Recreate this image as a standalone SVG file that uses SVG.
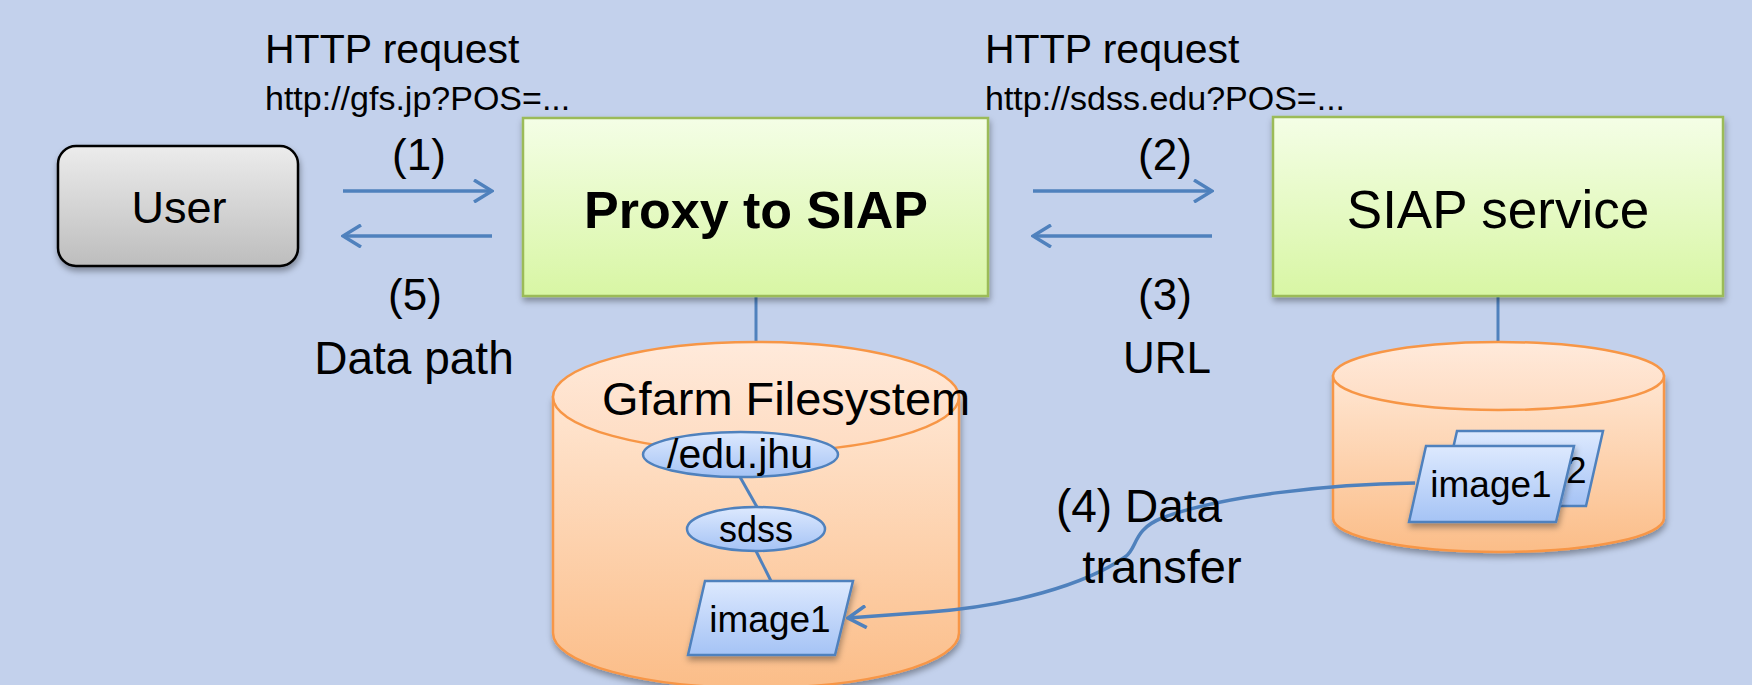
<svg xmlns="http://www.w3.org/2000/svg" width="1752" height="685" viewBox="0 0 1752 685">
<defs>
<style>
text{font-family:"Liberation Sans",Arial,sans-serif;fill:#000}
.lbl{font-size:44px;text-anchor:middle}
.big{font-size:41px}
.url{font-size:34px}
.conn{stroke:#4f81bd;stroke-width:3.5;fill:none}
.link{stroke:#4f81bd;stroke-width:3;fill:none}
.cylbody{fill:url(#gOrange);stroke:#f79646;stroke-width:2.5}
.cyltop{fill:url(#gOrangeTop);stroke:#f79646;stroke-width:2.5}
.bl{fill:url(#gBlue);stroke:#4f81bd;stroke-width:2.5}
</style>
<linearGradient id="gGray" x1="0" y1="0" x2="0" y2="1"><stop offset="0" stop-color="#ececec"/><stop offset="1" stop-color="#bdbdbd"/></linearGradient>
<linearGradient id="gGreen" x1="0" y1="0" x2="0" y2="1"><stop offset="0" stop-color="#f4fee6"/><stop offset="1" stop-color="#d8f6a4"/></linearGradient>
<linearGradient id="gOrange" x1="0" y1="0" x2="0" y2="1"><stop offset="0" stop-color="#ffe6d2"/><stop offset="1" stop-color="#fbbd88"/></linearGradient>
<linearGradient id="gOrangeTop" x1="0" y1="0" x2="0" y2="1"><stop offset="0" stop-color="#ffeadb"/><stop offset="1" stop-color="#fedcc2"/></linearGradient>
<linearGradient id="gBlue" x1="0" y1="0" x2="0" y2="1"><stop offset="0" stop-color="#dde9fe"/><stop offset="1" stop-color="#a5c3f5"/></linearGradient>
<filter id="sh" x="-10%" y="-10%" width="120%" height="130%"><feDropShadow dx="1" dy="4" stdDeviation="3" flood-color="#000" flood-opacity="0.35"/></filter>
<marker id="ah" viewBox="0 0 22 24" refX="20" refY="12" markerWidth="22" markerHeight="24" markerUnits="userSpaceOnUse" orient="auto">
<path d="M2,1 L20,12 L2,23" fill="none" stroke="#4f81bd" stroke-width="3.5" stroke-linejoin="miter"/>
</marker>
</defs>
<rect width="1752" height="685" fill="#c3d1ec"/>

<g id="connectors">
<line class="conn" x1="343" y1="191" x2="492" y2="191" marker-end="url(#ah)"/>
<line class="conn" x1="492" y1="236" x2="343" y2="236" marker-end="url(#ah)"/>
<line class="conn" x1="1033" y1="191" x2="1212" y2="191" marker-end="url(#ah)"/>
<line class="conn" x1="1212" y1="236" x2="1033" y2="236" marker-end="url(#ah)"/>
<line class="link" x1="756" y1="297" x2="756" y2="342"/>
<line class="link" x1="1498" y1="296" x2="1498" y2="342"/>
</g>

<g id="user">
<rect x="58" y="146" width="240" height="120" rx="18" fill="url(#gGray)" stroke="#000" stroke-width="2.5" filter="url(#sh)"/>
<text x="179" y="223" style="font-size:45px;text-anchor:middle">User</text>
</g>

<g id="proxy">
<rect x="523" y="118" width="465" height="178" fill="url(#gGreen)" stroke="#9bbb59" stroke-width="2.5" filter="url(#sh)"/>
<text x="756" y="228" style="font-size:52px;font-weight:bold;text-anchor:middle">Proxy to SIAP</text>
</g>

<g id="siap">
<rect x="1273" y="117" width="450" height="179" fill="url(#gGreen)" stroke="#9bbb59" stroke-width="2.5" filter="url(#sh)"/>
<text x="1498" y="228" style="font-size:53px;text-anchor:middle">SIAP service</text>
</g>

<g id="gfarm">
<path class="cylbody" d="M553,397 L553,633 A203,55 0 0 0 959,633 L959,397 Z" filter="url(#sh)"/>
<ellipse class="cyltop" cx="756" cy="397" rx="203" ry="55"/>
<text x="602" y="415" style="font-size:47px">Gfarm Filesystem</text>
</g>

<g id="siapstore">
<path class="cylbody" d="M1333,376 L1333,518 A165.5,34 0 0 0 1664,518 L1664,376 Z" filter="url(#sh)"/>
<ellipse class="cyltop" cx="1498.5" cy="376" rx="165.5" ry="34"/>
</g>

<g id="tree-links">
<line class="link" x1="740" y1="477" x2="757" y2="507"/>
<line class="link" x1="756" y1="551" x2="771" y2="581"/>
</g>

<g id="edujhu">
<ellipse class="bl" cx="740.5" cy="454.5" rx="97.5" ry="22.5"/>
<text x="740" y="468" style="font-size:41px;text-anchor:middle">/edu.jhu</text>
</g>

<g id="sdss">
<ellipse class="bl" cx="756" cy="529" rx="69" ry="22"/>
<text x="756" y="542" style="font-size:36px;text-anchor:middle">sdss</text>
</g>

<g id="gf-image1">
<polygon class="bl" points="705,581 853,581 835,655 688,655" filter="url(#sh)"/>
<text x="770" y="632" style="font-size:37px;text-anchor:middle">image1</text>
</g>

<g id="siap-image2">
<polygon class="bl" points="1457,431 1603,431 1586,506 1440,506"/>
<text x="1566" y="483" style="font-size:37px">2</text>
</g>

<g id="siap-image1">
<polygon class="bl" points="1426,446 1574,446 1556,522 1409,522" filter="url(#sh)"/>
<text x="1491" y="497" style="font-size:37px;text-anchor:middle">image1</text>
</g>

<g id="transfer">
<path class="conn" d="M1415,483 C1330,484 1220,496 1162,518 C1132,530 1138,548 1125,557 C1085,585 1010,606 930,612 L848,618" marker-end="url(#ah)"/>
</g>

<g id="labels">
<text x="265" y="63" class="big">HTTP request</text>
<text x="265" y="110" class="url">http://gfs.jp?POS=...</text>
<text x="985" y="63" class="big">HTTP request</text>
<text x="985" y="110" class="url">http://sdss.edu?POS=...</text>
<text x="419" y="170" class="lbl">(1)</text>
<text x="415" y="310" class="lbl">(5)</text>
<text x="414" y="374" style="font-size:46px;text-anchor:middle">Data path</text>
<text x="1165" y="170" class="lbl">(2)</text>
<text x="1165" y="310" class="lbl">(3)</text>
<text x="1167" y="373" class="lbl">URL</text>
<text x="1139" y="522" style="font-size:46px;text-anchor:middle">(4) Data</text>
<text x="1162" y="583" style="font-size:47px;text-anchor:middle">transfer</text>
</g>
</svg>
